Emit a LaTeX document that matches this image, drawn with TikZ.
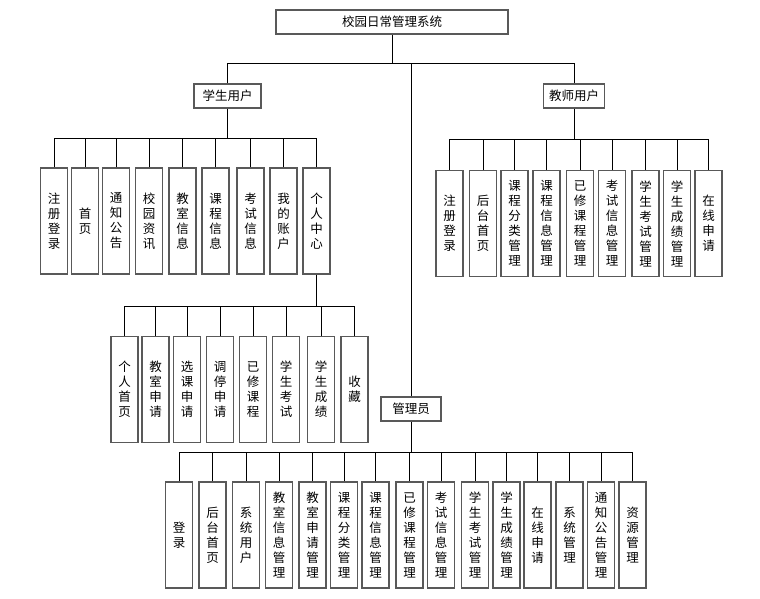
\documentclass[tikz,border=0pt]{standalone}
\usepackage{fontspec}
\newfontfamily\cjk{Noto Sans CJK SC}
\begin{document}
\begin{tikzpicture}[x=1pt,y=-1pt,
  box/.style={draw=black!65, line width=1.3pt, fill=white, inner sep=0pt, font=\cjk\fontsize{12.5}{15}\selectfont, align=center},
  vbox/.style={box, minimum width=27pt, minimum height=106pt},
  hbox/.style={box, minimum height=24pt},
  conn/.style={draw=black, line width=0.8pt}]
\useasboundingbox (0,0) rectangle (760,599);
% top level
\node[hbox, minimum width=232pt] (top) at (392,22) {校园日常管理系统};
\node[hbox, minimum width=67pt] (stu) at (227.5,96) {学生用户};
\node[hbox, minimum width=61pt] (tea) at (574,96) {教师用户};
\node[hbox, minimum width=60pt] (adm) at (411,409) {管理员};
% student children
\node[vbox] (s1) at (54,221) {注\\册\\登\\录};
\node[vbox] (s2) at (85,221) {首\\页};
\node[vbox] (s3) at (116,221) {通\\知\\公\\告};
\node[vbox] (s4) at (149,221) {校\\园\\资\\讯};
\node[vbox] (s5) at (182.5,221) {教\\室\\信\\息};
\node[vbox] (s6) at (215.5,221) {课\\程\\信\\息};
\node[vbox] (s7) at (250.5,221) {考\\试\\信\\息};
\node[vbox] (s8) at (283.5,221) {我\\的\\账\\户};
\node[vbox] (s9) at (316.5,221) {个\\人\\中\\心};
% personal center children
\node[vbox] (p1) at (124.5,389.5) {个\\人\\首\\页};
\node[vbox] (p2) at (155.5,389.5) {教\\室\\申\\请};
\node[vbox] (p3) at (187,389.5) {选\\课\\申\\请};
\node[vbox] (p4) at (220,389.5) {调\\停\\申\\请};
\node[vbox] (p5) at (253,389.5) {已\\修\\课\\程};
\node[vbox] (p6) at (286,389.5) {学\\生\\考\\试};
\node[vbox] (p7) at (321,389.5) {学\\生\\成\\绩};
\node[vbox] (p8) at (354.5,389.5) {收\\藏};
% teacher children
\node[vbox] (t1) at (449.5,223.5) {注\\册\\登\\录};
\node[vbox] (t2) at (483,223.5) {后\\台\\首\\页};
\node[vbox] (t3) at (514.5,223.5) {课\\程\\分\\类\\管\\理};
\node[vbox] (t4) at (546.5,223.5) {课\\程\\信\\息\\管\\理};
\node[vbox] (t5) at (580,223.5) {已\\修\\课\\程\\管\\理};
\node[vbox] (t6) at (612,223.5) {考\\试\\信\\息\\管\\理};
\node[vbox] (t7) at (645.5,223.5) {学\\生\\考\\试\\管\\理};
\node[vbox] (t8) at (677,223.5) {学\\生\\成\\绩\\管\\理};
\node[vbox] (t9) at (708.5,223.5) {在\\线\\申\\请};
% admin children
\node[vbox] (a1) at (179,535) {登\\录};
\node[vbox] (a2) at (212.5,535) {后\\台\\首\\页};
\node[vbox] (a3) at (246,535) {系\\统\\用\\户};
\node[vbox] (a4) at (279,535) {教\\室\\信\\息\\管\\理};
\node[vbox] (a5) at (312.5,535) {教\\室\\申\\请\\管\\理};
\node[vbox] (a6) at (344,535) {课\\程\\分\\类\\管\\理};
\node[vbox] (a7) at (375.5,535) {课\\程\\信\\息\\管\\理};
\node[vbox] (a8) at (409.5,535) {已\\修\\课\\程\\管\\理};
\node[vbox] (a9) at (441,535) {考\\试\\信\\息\\管\\理};
\node[vbox] (a10) at (475,535) {学\\生\\考\\试\\管\\理};
\node[vbox] (a11) at (506.5,535) {学\\生\\成\\绩\\管\\理};
\node[vbox] (a12) at (537.5,535) {在\\线\\申\\请};
\node[vbox] (a13) at (569.5,535) {系\\统\\管\\理};
\node[vbox] (a14) at (601,535) {通\\知\\公\\告\\管\\理};
\node[vbox] (a15) at (632.5,535) {资\\源\\管\\理};
% bus coordinates
\coordinate (bT) at (0,63);
\coordinate (bS) at (0,138);
\coordinate (bE) at (0,139);
\coordinate (bP) at (0,306);
\coordinate (bA) at (0,452);
% connectors
\draw[conn] (top.south) -- (top.south |- bT);
\draw[conn] (stu.north) -- (stu.north |- bT) -- (tea.north |- bT) -- (tea.north);
\draw[conn] (adm.north) -- (adm.north |- bT);
\draw[conn] (stu.south) -- (stu.south |- bS);
\draw[conn] (s1.north |- bS) -- (s9.north |- bS);
\foreach \i in {1,...,9} \draw[conn] (s\i.north) -- (s\i.north |- bS);
\draw[conn] (tea.south) -- (tea.south |- bE);
\draw[conn] (t1.north |- bE) -- (t9.north |- bE);
\foreach \i in {1,...,9} \draw[conn] (t\i.north) -- (t\i.north |- bE);
\draw[conn] (s9.south) -- (s9.south |- bP);
\draw[conn] (p1.north |- bP) -- (p8.north |- bP);
\foreach \i in {1,...,8} \draw[conn] (p\i.north) -- (p\i.north |- bP);
\draw[conn] (adm.south) -- (adm.south |- bA);
\draw[conn] (a1.north |- bA) -- (a15.north |- bA);
\foreach \i in {1,...,15} \draw[conn] (a\i.north) -- (a\i.north |- bA);
\end{tikzpicture}
\end{document}
